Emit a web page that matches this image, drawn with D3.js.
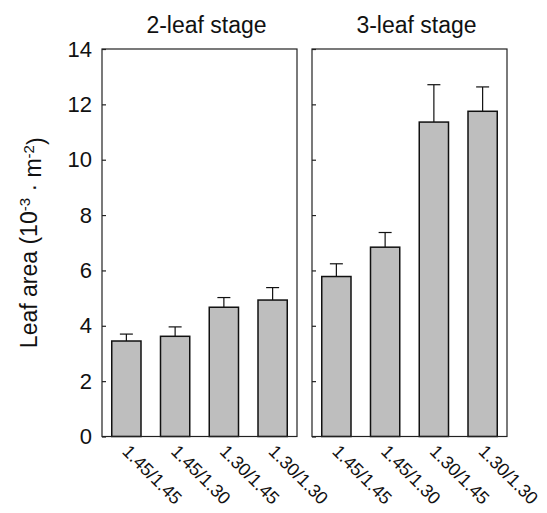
<!DOCTYPE html>
<html>
<head>
<meta charset="utf-8">
<script src="https://cdn.jsdelivr.net/npm/d3@7"></script>
<style>
  body { margin: 0; background: #fff; }
  text { font-family: "Liberation Sans", Arial, sans-serif; fill: #111; }
</style>
</head>
<body>
<svg></svg>
<script>
const width = 547;
const height = 513;

// data
const treatments = ["1.45/1.45", "1.45/1.30", "1.30/1.45", "1.30/1.30"];
const stages = ["2-leaf stage", "3-leaf stage"];
const leaf2 = [3.45, 3.62, 4.67, 4.93];
const err2 = [0.25, 0.34, 0.35, 0.45];
const leaf3 = [5.78, 6.84, 11.36, 11.75];
const err3 = [0.46, 0.53, 1.35, 0.88];
const yTicks = [0, 2, 4, 6, 8, 10, 12, 14];

const panels = [
  {title: stages[0], values: leaf2, errs: err2, x0: 102},
  {title: stages[1], values: leaf3, errs: err3, x0: 312}
];
const panelW = 195;
const plotTop = 49, plotBottom = 436.5;

const svg = d3.select('svg')
    .attr("width", width)
    .attr("height", height);

const y = d3.scaleLinear()
    .domain([0, 14])
    .range([plotBottom, plotTop]);

panels.forEach((p, pi) => {
    const x = d3.scaleBand()
        .domain(treatments)
        .range([p.x0, p.x0 + panelW])
        .paddingInner(0.4)
        .paddingOuter(0.2);

    const g = svg.append("g");

    // error bars (upward only)
    const rows = treatments.map((t, i) => ({t: t, v: p.values[i], e: p.errs[i]}));
    g.selectAll(".err")
        .data(rows)
        .enter().append("line")
        .attr("x1", d => x(d.t) + x.bandwidth()/2)
        .attr("x2", d => x(d.t) + x.bandwidth()/2)
        .attr("y1", d => y(d.v))
        .attr("y2", d => y(d.v + d.e))
        .style("stroke", "#111")
        .style("stroke-width", 1.2);
    g.selectAll(".cap")
        .data(rows)
        .enter().append("line")
        .attr("x1", d => x(d.t) + x.bandwidth()/2 - 6.5)
        .attr("x2", d => x(d.t) + x.bandwidth()/2 + 6.5)
        .attr("y1", d => y(d.v + d.e))
        .attr("y2", d => y(d.v + d.e))
        .style("stroke", "#111")
        .style("stroke-width", 1.2);

    g.selectAll(".bar")
        .data(rows)
        .enter().append("rect")
        .attr("x", d => x(d.t))
        .attr("y", d => y(d.v))
        .attr("width", x.bandwidth())
        .attr("height", d => y(0) - y(d.v))
        .style("fill", "#bebebe")
        .style("stroke", "#111")
        .style("stroke-width", 1.5);

    // frame
    g.append("rect")
        .attr("x", p.x0)
        .attr("y", plotTop)
        .attr("width", panelW)
        .attr("height", plotBottom - plotTop)
        .style("fill", "none")
        .style("stroke", "#222")
        .style("stroke-width", 1.2);

    // inward ticks
    const axis = d3.axisRight(y)
        .tickValues(yTicks)
        .tickSize(4)
        .tickFormat(pi === 0 ? d3.format("d") : "");
    const ag = g.append("g")
        .attr("transform", "translate(" + p.x0 + ",0)")
        .call(axis);
    ag.select(".domain").remove();
    ag.selectAll("line").style("stroke", "#222").style("stroke-width", 1.2);
    if (pi === 0) {
        ag.selectAll("text")
            .attr("x", -10)
            .attr("text-anchor", "end")
            .style("font-size", "22px")
            .style("fill", "#111");
    }

    // title
    g.append("text")
        .attr("x", p.x0 + panelW/2 + 7)
        .attr("y", 33)
        .attr("text-anchor", "middle")
        .style("font-size", "23px")
        .text(p.title);

    // rotated category labels
    g.selectAll(".xl")
        .data(treatments)
        .enter().append("text")
        .attr("transform", d => "translate(" + (x(d) + x.bandwidth()/2 + 4) + "," + (plotBottom + 7) + ") rotate(45)")
        .attr("dy", "0.71em")
        .style("font-size", "18px")
        .text(d => d);
});

// y axis title
const yl = svg.append("text")
    .attr("transform", "translate(37," + ((plotTop + plotBottom)/2) + ") rotate(-90)")
    .attr("text-anchor", "middle")
    .style("font-size", "23px");
yl.append("tspan").text("Leaf area (10");
yl.append("tspan").attr("dy", "-0.45em").style("font-size", "15px").text("-3");
yl.append("tspan").attr("dy", "0.45em").text(" \u00b7 m");
yl.append("tspan").attr("dy", "-0.45em").style("font-size", "15px").text("-2");
yl.append("tspan").attr("dy", "0.45em").text(")");
</script>
</body>
</html>
